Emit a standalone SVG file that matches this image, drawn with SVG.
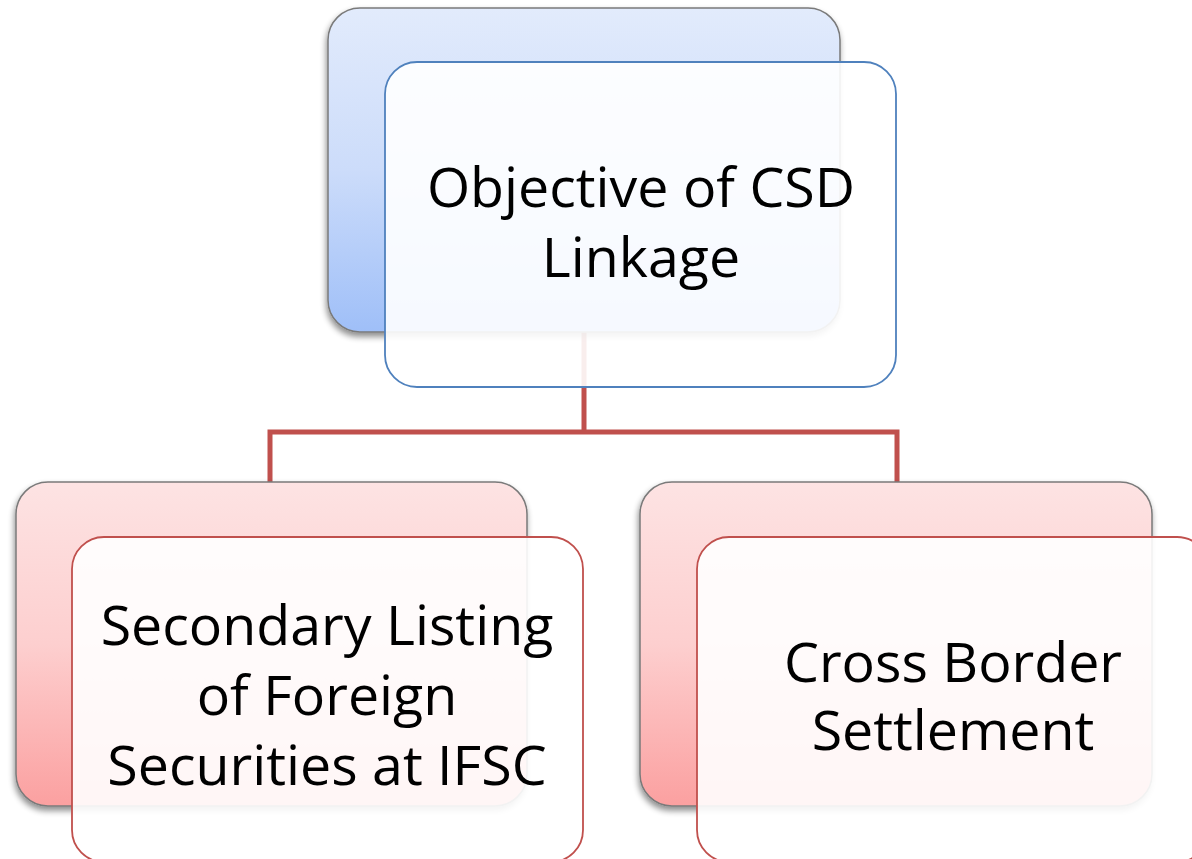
<svg xmlns="http://www.w3.org/2000/svg" width="1192" height="859" viewBox="0 0 1192 859">
<defs>
<linearGradient id="gBlue" x1="0" y1="0" x2="0" y2="1">
<stop offset="0" stop-color="#E2EBFC"/>
<stop offset="0.5" stop-color="#CCDCFA"/>
<stop offset="1" stop-color="#9FBFF8"/>
</linearGradient>
<linearGradient id="gRed" x1="0" y1="0" x2="0" y2="1">
<stop offset="0" stop-color="#FDE3E3"/>
<stop offset="0.5" stop-color="#FDCFCF"/>
<stop offset="1" stop-color="#FBA0A0"/>
</linearGradient>
<filter id="sh" x="-10%" y="-10%" width="120%" height="125%">
<feGaussianBlur in="SourceAlpha" stdDeviation="3"/>
<feOffset dx="-1" dy="4" result="b"/>
<feComponentTransfer><feFuncA type="linear" slope="0.45"/></feComponentTransfer>
<feMerge><feMergeNode/><feMergeNode in="SourceGraphic"/></feMerge>
</filter>
</defs>
<style>
.back{stroke:#7a7a7a;stroke-width:1.5;filter:url(#sh)}
.fb{fill:#FFFFFF;fill-opacity:0.9;stroke:#4F81BD;stroke-width:1.8}
.fr{fill:#FFFFFF;fill-opacity:0.9;stroke:#C0504D;stroke-width:1.8}
.t{font-family:"Open Sans","Lato","Liberation Sans",sans-serif;font-size:55.5px;fill:#000;text-anchor:middle}
.conn{fill:none;stroke:#C0504D;stroke-width:5;stroke-linejoin:miter}
</style>
<g id="connectors">
<path class="conn" d="M584,332 V432 M270,482 V432 H897 V482"/>
</g>
<g id="node-root">
<rect class="back" x="328" y="8" width="512" height="324" rx="32" fill="url(#gBlue)"/>
<rect class="fb" x="385" y="62" width="511" height="325" rx="32"/>
<text class="t" x="641" y="207">Objective of CSD</text>
<text class="t" x="641" y="277">Linkage</text>
</g>
<g id="node-left">
<rect class="back" x="16" y="482" width="511" height="324" rx="32" fill="url(#gRed)"/>
<rect class="fr" x="72" y="537" width="511" height="325" rx="32"/>
<text class="t" x="327" y="645">Secondary Listing</text>
<text class="t" x="327" y="715">of Foreign</text>
<text class="t" x="327" y="785">Securities at IFSC</text>
</g>
<g id="node-right">
<rect class="back" x="640" y="482" width="512" height="324" rx="32" fill="url(#gRed)"/>
<rect class="fr" x="697" y="537" width="512" height="325" rx="32"/>
<text class="t" x="953" y="682">Cross Border</text>
<text class="t" x="953" y="750">Settlement</text>
</g>
</svg>
